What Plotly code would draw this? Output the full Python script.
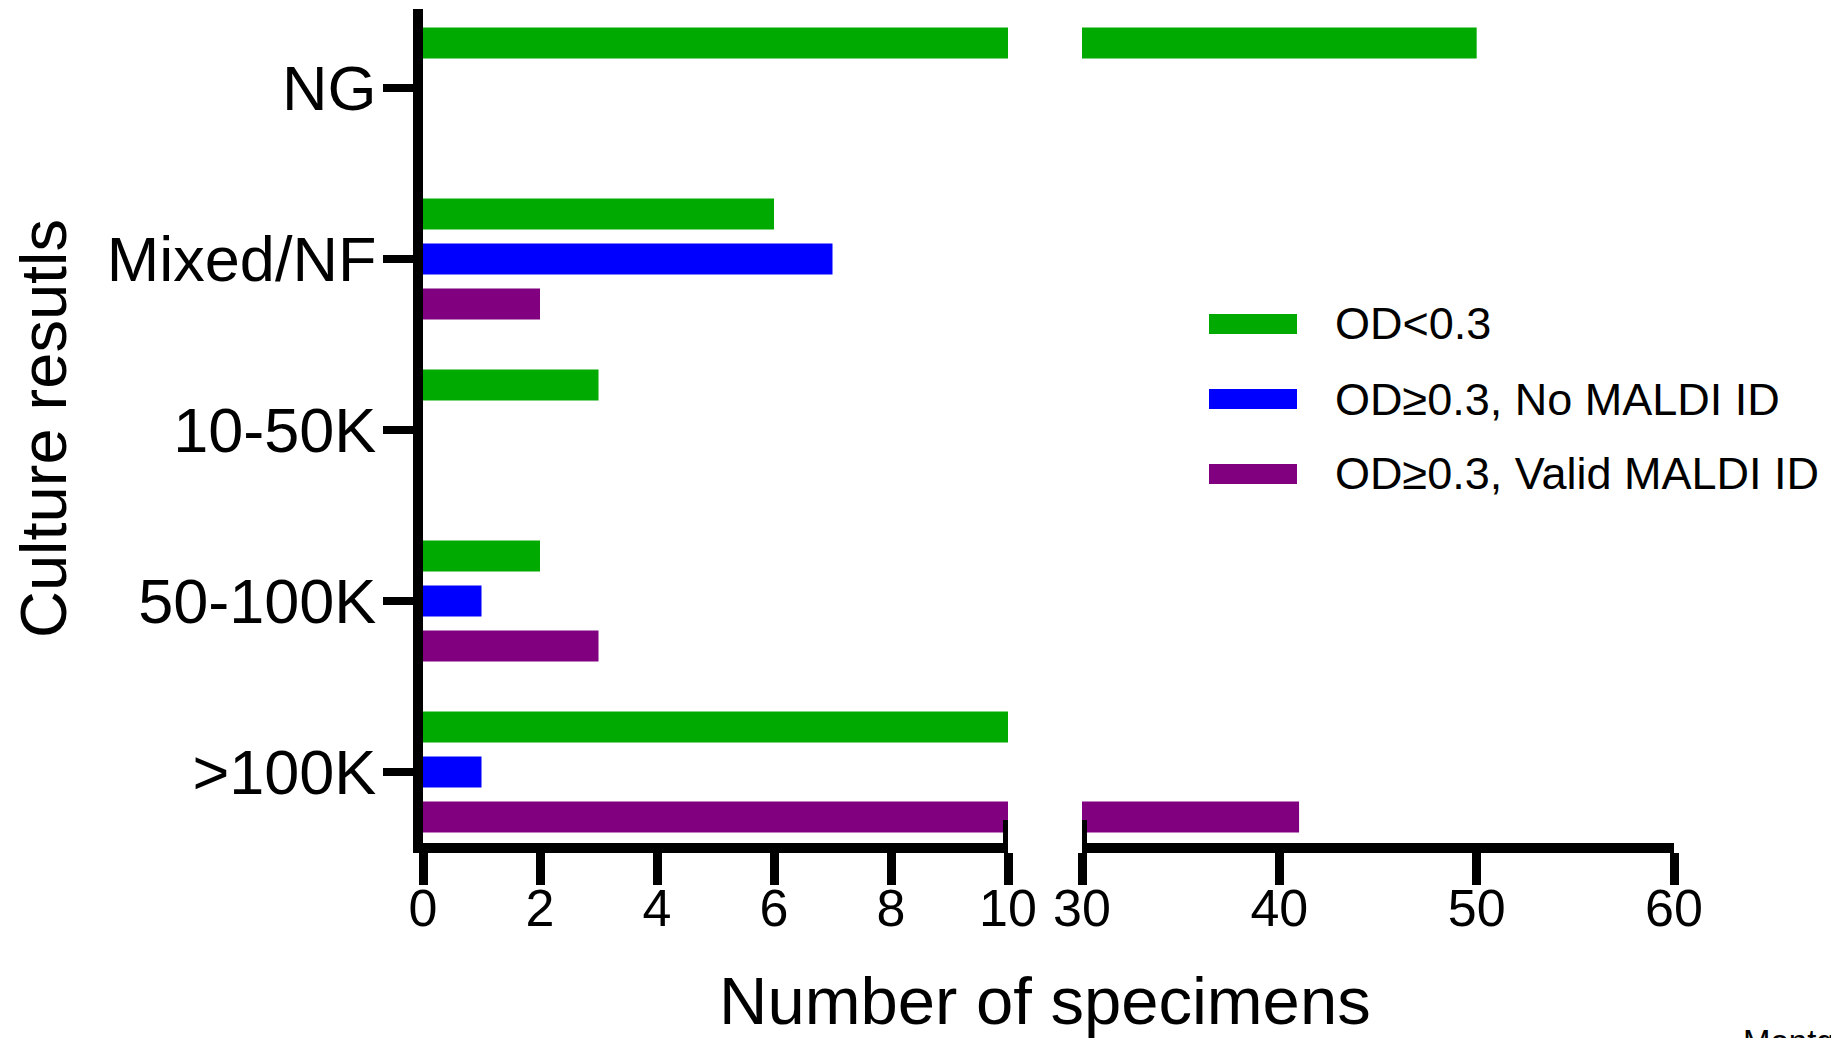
import plotly.graph_objects as go

# ---------------- data ----------------
categories = ["NG", "Mixed/NF", "10-50K", "50-100K", ">100K"]   # top -> bottom
series_names = ["OD<0.3", "OD≥0.3, No MALDI ID", "OD≥0.3, Valid MALDI ID"]
od_low = [50, 6, 3, 2, 10]
od_high_no_id = [0, 7, 0, 1, 1]
od_high_valid_id = [0, 2, 0, 3, 41]
series_values = [od_low, od_high_no_id, od_high_valid_id]
series_colors = ["#00AA00", "#0000FF", "#800080"]

seg1_ticks = [0, 2, 4, 6, 8, 10]
seg2_ticks = [30, 40, 50, 60]
seg1_range = [0, 10]
seg2_range = [30, 60]

x_title = "Number of specimens"
y_title = "Culture resutls"
corner_note = "Montgomery"

# ---------------- layout helpers ----------------
W, H = 1831, 1038
FONT = "Liberation Sans, Arial, Helvetica, sans-serif"


def px_x(p):
    return p / W


def px_y(p):
    return 1 - p / H


bar_w = 0.181
slot = 0.263
centers = [-slot, 0.0, slot]

fig = go.Figure()
for name, vals, col, c in zip(series_names, series_values, series_colors, centers):
    for xa in ["x", "x2"]:
        fig.add_trace(go.Bar(
            y=categories, x=vals, orientation="h", name=name,
            marker=dict(color=col, line=dict(width=0)),
            width=bar_w, offset=c - bar_w / 2,
            xaxis=xa, yaxis="y", showlegend=False, hoverinfo="x+y+name",
        ))

axis_common = dict(
    showline=True, linecolor="black", linewidth=10,
    ticks="outside", ticklen=32, tickwidth=9, tickcolor="black",
    showgrid=False, zeroline=False, automargin=False,
    ticklabelstandoff=-21,
    tickfont=dict(family=FONT, size=52, color="black"),
    anchor="y",
)

fig.update_layout(
    width=W, height=H,
    margin=dict(l=0, r=0, t=0, b=0, autoexpand=False),
    paper_bgcolor="white", plot_bgcolor="white",
    barmode="overlay",
    showlegend=False,
    xaxis=dict(domain=[px_x(423), px_x(1008)], range=seg1_range,
               tickvals=seg1_ticks, ticktext=[str(t) for t in seg1_ticks],
               **axis_common),
    xaxis2=dict(domain=[px_x(1082), px_x(1674)], range=seg2_range,
                tickvals=seg2_ticks, ticktext=[str(t) for t in seg2_ticks],
                **axis_common),
    yaxis=dict(domain=[px_y(843), px_y(9)], type="category",
               categoryorder="array", categoryarray=categories,
               range=[4.415, -0.462], anchor="x", automargin=False,
               showline=True, linecolor="black", linewidth=10,
               ticks="outside", ticklen=30, tickwidth=8, tickcolor="black",
               ticklabelstandoff=-6,
               showgrid=False, zeroline=False,
               tickfont=dict(family=FONT, size=63, color="black")),
)

# broken-axis end caps
shapes = []
for xref, xv in [("x", seg1_range[1]), ("x2", seg2_range[0])]:
    shapes.append(dict(type="line", xref=xref, yref="paper",
                       x0=xv, x1=xv, y0=px_y(848), y1=px_y(820),
                       line=dict(color="black", width=10)))

# custom legend (wide swatches)
annotations = []
leg_top, leg_step = 324, 75
for i, (name, col) in enumerate(zip(series_names, series_colors)):
    yc = leg_top + i * leg_step
    shapes.append(dict(type="rect", xref="paper", yref="paper",
                       x0=px_x(1209), x1=px_x(1297),
                       y0=px_y(yc + 10), y1=px_y(yc - 10),
                       fillcolor=col, line=dict(width=0)))
    annotations.append(dict(text=name, xref="paper", yref="paper",
                            x=px_x(1333), y=px_y(yc), xanchor="left", yanchor="middle",
                            showarrow=False,
                            font=dict(family=FONT, size=45, color="black")))

annotations.append(dict(text=x_title, xref="paper", yref="paper",
                        x=px_x(1045), y=px_y(1000), xanchor="center", yanchor="middle",
                        showarrow=False, font=dict(family=FONT, size=67, color="black")))
annotations.append(dict(text=y_title, xref="paper", yref="paper",
                        x=px_x(43), y=px_y(429), xanchor="center", yanchor="middle",
                        textangle=-90, showarrow=False,
                        font=dict(family=FONT, size=65, color="black")))
annotations.append(dict(text=corner_note, xref="paper", yref="paper",
                        x=px_x(1741), y=px_y(1021), xanchor="left", yanchor="top",
                        showarrow=False, font=dict(family=FONT, size=33, color="black")))

fig.update_layout(shapes=shapes, annotations=annotations)
fig.write_html("out.html")
